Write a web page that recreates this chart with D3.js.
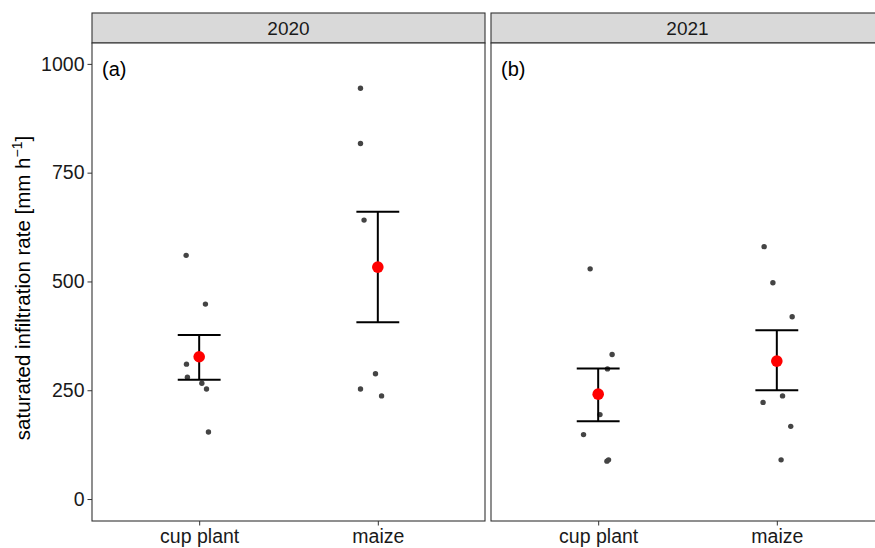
<!DOCTYPE html>
<html>
<head>
<meta charset="utf-8">
<script src="https://cdn.jsdelivr.net/npm/d3@7"></script>
<style>
  body { margin: 0; background: #fff; }
  text { font-family: "Liberation Sans", Arial, sans-serif; }
</style>
</head>
<body>
<svg id="chart" width="875" height="548"></svg>
<script>
// facets and categories
const years = ["2020", "2021"]
const tags = ["(a)", "(b)"]
const crops = ["cup plant", "maize"]
const yTicks = [0, 250, 500, 750, 1000]

const obs2020cup = [560, 448, 310, 280, 266, 253, 154]
const jit2020cup = [-0.073, 0.035, -0.071, -0.066, 0.015, 0.041, 0.052]
const obs2020maize = [944, 817, 641, 288, 253, 237]
const jit2020maize = [-0.097, -0.097, -0.077, -0.013, -0.097, 0.021]
const obs2021cup = [529, 332, 299, 194, 148, 87, 90]
const jit2021cup = [-0.045, 0.078, 0.052, 0.010, -0.082, 0.049, 0.058]
const obs2021maize = [580, 497, 419, 237, 222, 167, 90]
const jit2021maize = [-0.071, -0.022, 0.086, 0.032, -0.077, 0.078, 0.024]

// mean +- SE per facet, [cup plant, maize]
const mean2020 = [327, 533]
const lower2020 = [274, 406]
const upper2020 = [377, 660]
const mean2021 = [241, 317]
const lower2021 = [179, 250]
const upper2021 = [300, 388]

const facets = [
    {obs: [obs2020cup, obs2020maize], jit: [jit2020cup, jit2020maize], mean: mean2020, lo: lower2020, hi: upper2020},
    {obs: [obs2021cup, obs2021maize], jit: [jit2021cup, jit2021maize], mean: mean2021, lo: lower2021, hi: upper2021}
]

const svg = d3.select("#chart")

const TOP = 43, BOTTOM = 521, STRIP_H = 30
const panelLeft = [92, 491]
const PANEL_W = 393
const TICK_FONT = "19.5px"

const y = d3.scaleLinear().domain([-50.5, 1048]).range([BOTTOM, TOP])

facets.forEach(function (f, p) {
    const x0 = panelLeft[p]
    const x = d3.scaleLinear().domain([0.4, 2.6]).range([x0, x0 + PANEL_W])
    const g = svg.append("g")

    // strip
    g.append("rect")
        .attr("x", x0).attr("y", TOP - STRIP_H)
        .attr("width", PANEL_W).attr("height", STRIP_H)
        .attr("fill", "#d9d9d9").attr("stroke", "#333").attr("stroke-width", 1.1)
    g.append("text")
        .attr("x", x0 + PANEL_W / 2).attr("y", TOP - STRIP_H / 2 + 7)
        .attr("text-anchor", "middle")
        .style("font-size", "19px").attr("fill", "#1a1a1a")
        .text(years[p])

    // panel background
    g.append("rect")
        .attr("x", x0).attr("y", TOP)
        .attr("width", PANEL_W).attr("height", BOTTOM - TOP)
        .attr("fill", "#fff")

    // jittered observations
    f.obs.forEach(function (vals, c) {
        g.selectAll(null)
            .data(vals)
            .enter()
            .append("circle")
            .attr("cx", (d, i) => x(c + 1 + f.jit[c][i]))
            .attr("cy", d => y(d))
            .attr("r", 2.7)
            .attr("fill", "#444")
    })

    // error bars
    crops.forEach(function (crop, c) {
        const cx = x(c + 1)
        const hw = x(1.12) - x(1)
        g.append("line")
            .attr("x1", cx).attr("x2", cx)
            .attr("y1", y(f.lo[c])).attr("y2", y(f.hi[c]))
            .attr("stroke", "#000").attr("stroke-width", 2)
        g.append("line")
            .attr("x1", cx - hw).attr("x2", cx + hw)
            .attr("y1", y(f.lo[c])).attr("y2", y(f.lo[c]))
            .attr("stroke", "#000").attr("stroke-width", 2)
        g.append("line")
            .attr("x1", cx - hw).attr("x2", cx + hw)
            .attr("y1", y(f.hi[c])).attr("y2", y(f.hi[c]))
            .attr("stroke", "#000").attr("stroke-width", 2)
        g.append("circle")
            .attr("cx", cx).attr("cy", y(f.mean[c]))
            .attr("r", 5.8)
            .attr("fill", "#ff0000")
    })

    // panel tag
    g.append("text")
        .attr("x", x0 + 10).attr("y", 76)
        .style("font-size", "20px").attr("fill", "#000")
        .text(tags[p])

    // panel border
    g.append("rect")
        .attr("x", x0).attr("y", TOP)
        .attr("width", PANEL_W).attr("height", BOTTOM - TOP)
        .attr("fill", "none").attr("stroke", "#333").attr("stroke-width", 1.1)

    // x axis
    const xb = d3.scalePoint().domain(crops).range([x(1), x(2)])
    const xAxis = g.append("g")
        .attr("transform", `translate(0, ${BOTTOM})`)
        .call(d3.axisBottom(xb).tickSize(4.5).tickPadding(4))
    xAxis.select(".domain").remove()
    xAxis.selectAll("line").attr("stroke", "#333")
    xAxis.selectAll("text")
        .style("font-size", TICK_FONT).attr("fill", "#1a1a1a")
        .attr("font-family", "Liberation Sans, Arial, sans-serif")
})

// y axis (left panel only)
const yAxis = svg.append("g")
    .attr("transform", `translate(${panelLeft[0]}, 0)`)
    .call(d3.axisLeft(y).tickValues(yTicks).tickFormat(d3.format("d")).tickSize(4.5).tickPadding(3))
yAxis.select(".domain").remove()
yAxis.selectAll("line").attr("stroke", "#333")
yAxis.selectAll("text")
    .style("font-size", TICK_FONT).attr("fill", "#1a1a1a")
    .attr("font-family", "Liberation Sans, Arial, sans-serif")

// y title with superscript
const yt = svg.append("text")
    .attr("transform", `translate(30, ${(TOP + BOTTOM) / 2 + 6}) rotate(-90)`)
    .attr("text-anchor", "middle")
    .style("font-size", "20.5px").attr("fill", "#000")
yt.append("tspan").text("saturated infiltration rate [mm h")
yt.append("tspan").attr("dy", -8).style("font-size", "14px").text("\u22121")
yt.append("tspan").attr("dy", 8).text("]")
</script>
</body>
</html>
